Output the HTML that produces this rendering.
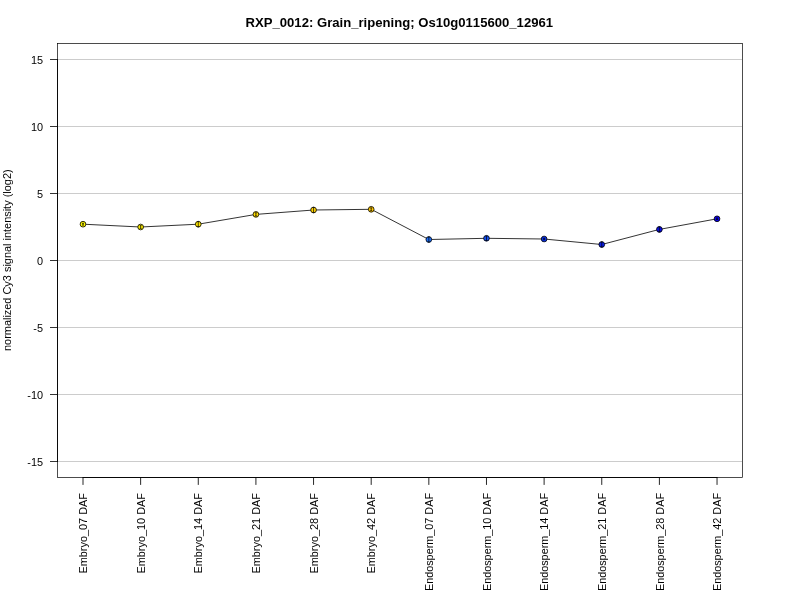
<!DOCTYPE html>
<html><head><meta charset="utf-8"><title>RXP_0012</title>
<style>
html,body{margin:0;padding:0;background:#fff;}
svg{display:block;will-change:transform;opacity:0.999;}
text{font-family:"Liberation Sans",sans-serif;fill:#000;font-kerning:none;}
</style></head><body>
<svg width="800" height="600" viewBox="0 0 800 600">
<rect x="0" y="0" width="800" height="600" fill="#ffffff"/>
<text x="399.3" y="26.6" text-anchor="middle" font-size="13.1" font-weight="bold" textLength="307.5" lengthAdjust="spacingAndGlyphs">RXP_0012: Grain_ripening; Os10g0115600_12961</text>
<line x1="58" y1="59.5" x2="742" y2="59.5" stroke="#cccccc" stroke-width="1"/>
<line x1="58" y1="126.5" x2="742" y2="126.5" stroke="#cccccc" stroke-width="1"/>
<line x1="58" y1="193.5" x2="742" y2="193.5" stroke="#cccccc" stroke-width="1"/>
<line x1="58" y1="260.5" x2="742" y2="260.5" stroke="#cccccc" stroke-width="1"/>
<line x1="58" y1="327.5" x2="742" y2="327.5" stroke="#cccccc" stroke-width="1"/>
<line x1="58" y1="394.5" x2="742" y2="394.5" stroke="#cccccc" stroke-width="1"/>
<line x1="58" y1="461.5" x2="742" y2="461.5" stroke="#cccccc" stroke-width="1"/>
<rect x="57.5" y="43.4" width="685" height="434.1" fill="none" stroke="#000" stroke-width="0.7"/>
<line x1="57.5" y1="59" x2="57.5" y2="462" stroke="#000" stroke-width="0.88"/>
<line x1="50" y1="59.5" x2="57.5" y2="59.5" stroke="#000" stroke-width="0.8"/>
<text x="43" y="64.1" text-anchor="end" font-size="10.9">15</text>
<line x1="50" y1="126.5" x2="57.5" y2="126.5" stroke="#000" stroke-width="0.8"/>
<text x="43" y="131.1" text-anchor="end" font-size="10.9">10</text>
<line x1="50" y1="193.5" x2="57.5" y2="193.5" stroke="#000" stroke-width="0.8"/>
<text x="43" y="198.1" text-anchor="end" font-size="10.9">5</text>
<line x1="50" y1="260.5" x2="57.5" y2="260.5" stroke="#000" stroke-width="0.8"/>
<text x="43" y="265.1" text-anchor="end" font-size="10.9">0</text>
<line x1="50" y1="327.5" x2="57.5" y2="327.5" stroke="#000" stroke-width="0.8"/>
<text x="43" y="332.1" text-anchor="end" font-size="10.9">-5</text>
<line x1="50" y1="394.5" x2="57.5" y2="394.5" stroke="#000" stroke-width="0.8"/>
<text x="43" y="399.1" text-anchor="end" font-size="10.9">-10</text>
<line x1="50" y1="461.5" x2="57.5" y2="461.5" stroke="#000" stroke-width="0.8"/>
<text x="43" y="466.1" text-anchor="end" font-size="10.9">-15</text>
<line x1="82.5" y1="477.5" x2="717.54" y2="477.5" stroke="#000" stroke-width="0.9"/>
<line x1="83.00" y1="477.5" x2="83.00" y2="484.9" stroke="#000" stroke-width="0.85"/>
<text transform="translate(87.10,493) rotate(-90)" text-anchor="end" font-size="10.9" textLength="80.6" lengthAdjust="spacingAndGlyphs">Embryo_07 DAF</text>
<line x1="140.64" y1="477.5" x2="140.64" y2="484.9" stroke="#000" stroke-width="0.85"/>
<text transform="translate(144.74,493) rotate(-90)" text-anchor="end" font-size="10.9" textLength="80.6" lengthAdjust="spacingAndGlyphs">Embryo_10 DAF</text>
<line x1="198.28" y1="477.5" x2="198.28" y2="484.9" stroke="#000" stroke-width="0.85"/>
<text transform="translate(202.38,493) rotate(-90)" text-anchor="end" font-size="10.9" textLength="80.6" lengthAdjust="spacingAndGlyphs">Embryo_14 DAF</text>
<line x1="255.92" y1="477.5" x2="255.92" y2="484.9" stroke="#000" stroke-width="0.85"/>
<text transform="translate(260.02,493) rotate(-90)" text-anchor="end" font-size="10.9" textLength="80.6" lengthAdjust="spacingAndGlyphs">Embryo_21 DAF</text>
<line x1="313.56" y1="477.5" x2="313.56" y2="484.9" stroke="#000" stroke-width="0.85"/>
<text transform="translate(317.66,493) rotate(-90)" text-anchor="end" font-size="10.9" textLength="80.6" lengthAdjust="spacingAndGlyphs">Embryo_28 DAF</text>
<line x1="371.20" y1="477.5" x2="371.20" y2="484.9" stroke="#000" stroke-width="0.85"/>
<text transform="translate(375.30,493) rotate(-90)" text-anchor="end" font-size="10.9" textLength="80.6" lengthAdjust="spacingAndGlyphs">Embryo_42 DAF</text>
<line x1="428.84" y1="477.5" x2="428.84" y2="484.9" stroke="#000" stroke-width="0.85"/>
<text transform="translate(432.94,493) rotate(-90)" text-anchor="end" font-size="10.9" textLength="98.1" lengthAdjust="spacingAndGlyphs">Endosperm_07 DAF</text>
<line x1="486.48" y1="477.5" x2="486.48" y2="484.9" stroke="#000" stroke-width="0.85"/>
<text transform="translate(490.58,493) rotate(-90)" text-anchor="end" font-size="10.9" textLength="98.1" lengthAdjust="spacingAndGlyphs">Endosperm_10 DAF</text>
<line x1="544.12" y1="477.5" x2="544.12" y2="484.9" stroke="#000" stroke-width="0.85"/>
<text transform="translate(548.22,493) rotate(-90)" text-anchor="end" font-size="10.9" textLength="98.1" lengthAdjust="spacingAndGlyphs">Endosperm_14 DAF</text>
<line x1="601.76" y1="477.5" x2="601.76" y2="484.9" stroke="#000" stroke-width="0.85"/>
<text transform="translate(605.86,493) rotate(-90)" text-anchor="end" font-size="10.9" textLength="98.1" lengthAdjust="spacingAndGlyphs">Endosperm_21 DAF</text>
<line x1="659.40" y1="477.5" x2="659.40" y2="484.9" stroke="#000" stroke-width="0.85"/>
<text transform="translate(663.50,493) rotate(-90)" text-anchor="end" font-size="10.9" textLength="98.1" lengthAdjust="spacingAndGlyphs">Endosperm_28 DAF</text>
<line x1="717.04" y1="477.5" x2="717.04" y2="484.9" stroke="#000" stroke-width="0.85"/>
<text transform="translate(721.14,493) rotate(-90)" text-anchor="end" font-size="10.9" textLength="98.1" lengthAdjust="spacingAndGlyphs">Endosperm_42 DAF</text>
<text transform="translate(11.3,260.2) rotate(-90)" text-anchor="middle" font-size="10.9" textLength="181.6" lengthAdjust="spacingAndGlyphs">normalized Cy3 signal intensity (log2)</text>
<polyline points="83.00,224.20 140.64,227.00 198.28,224.20 255.92,214.40 313.56,210.00 371.20,209.30 428.84,239.50 486.48,238.30 544.12,239.00 601.76,244.50 659.40,229.40 717.04,218.80" fill="none" stroke="#000" stroke-width="0.8" stroke-linejoin="round"/>
<circle cx="83.00" cy="224.20" r="2.85" fill="#FFFA00" stroke="#000" stroke-width="0.8"/>
<path d="M83.00 223.30V225.10M82.00 223.30h2M82.00 225.10h2" fill="none" stroke="#000" stroke-width="0.7"/>
<circle cx="140.64" cy="227.00" r="2.85" fill="#FFF000" stroke="#000" stroke-width="0.8"/>
<path d="M140.64 225.60V228.40M139.64 225.60h2M139.64 228.40h2" fill="none" stroke="#000" stroke-width="0.7"/>
<circle cx="198.28" cy="224.20" r="2.85" fill="#FFE600" stroke="#000" stroke-width="0.8"/>
<path d="M198.28 221.60V226.80M197.28 221.60h2M197.28 226.80h2" fill="none" stroke="#000" stroke-width="0.7"/>
<circle cx="255.92" cy="214.40" r="2.85" fill="#FFDC00" stroke="#000" stroke-width="0.8"/>
<path d="M255.92 212.80V216.00M254.92 212.80h2M254.92 216.00h2" fill="none" stroke="#000" stroke-width="0.7"/>
<circle cx="313.56" cy="210.00" r="2.85" fill="#FFD200" stroke="#000" stroke-width="0.8"/>
<path d="M313.56 207.40V212.60M312.56 207.40h2M312.56 212.60h2" fill="none" stroke="#000" stroke-width="0.7"/>
<circle cx="371.20" cy="209.30" r="2.85" fill="#FFC800" stroke="#000" stroke-width="0.8"/>
<path d="M371.20 207.90V210.70M370.20 207.90h2M370.20 210.70h2" fill="none" stroke="#000" stroke-width="0.7"/>
<circle cx="428.84" cy="239.50" r="2.85" fill="#1E6EF5" stroke="#000" stroke-width="0.8"/>
<path d="M428.84 236.90V242.10M427.84 236.90h2M427.84 242.10h2" fill="none" stroke="#000" stroke-width="0.7"/>
<circle cx="486.48" cy="238.30" r="2.85" fill="#1450F0" stroke="#000" stroke-width="0.8"/>
<path d="M486.48 236.10V240.50M485.48 236.10h2M485.48 240.50h2" fill="none" stroke="#000" stroke-width="0.7"/>
<circle cx="544.12" cy="239.00" r="2.85" fill="#0A32EB" stroke="#000" stroke-width="0.8"/>
<path d="M544.12 238.30V239.70M543.12 238.30h2M543.12 239.70h2" fill="none" stroke="#000" stroke-width="0.7"/>
<circle cx="601.76" cy="244.50" r="2.85" fill="#0A1EE6" stroke="#000" stroke-width="0.8"/>
<path d="M601.76 241.90V247.10M600.76 241.90h2M600.76 247.10h2" fill="none" stroke="#000" stroke-width="0.7"/>
<circle cx="659.40" cy="229.40" r="2.85" fill="#0A0FE1" stroke="#000" stroke-width="0.8"/>
<path d="M659.40 226.80V232.00M658.40 226.80h2M658.40 232.00h2" fill="none" stroke="#000" stroke-width="0.7"/>
<circle cx="717.04" cy="218.80" r="2.85" fill="#0A00E6" stroke="#000" stroke-width="0.8"/>
<path d="M717.04 218.10V219.50M716.04 218.10h2M716.04 219.50h2" fill="none" stroke="#000" stroke-width="0.7"/>
</svg>
</body></html>
